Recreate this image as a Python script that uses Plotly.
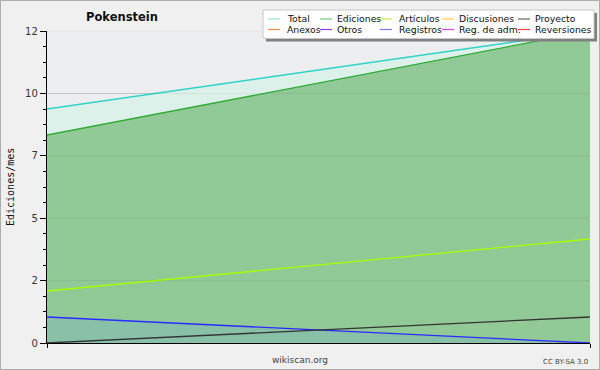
import plotly.graph_objects as go

# ---- data ----
months = [0, 1]
total = [9, 12]
ediciones = [8, 12]
articulos = [2, 4]
discusiones = [0, 0]
proyecto = [0, 1]
anexos = [0, 0]
otros = [0, 0]
registros = [1, 0]
reg_adm = [0, 0]
reversiones = [0, 0]

y_tickvals = [0, 2.4, 4.8, 7.2, 9.6, 12]
y_ticktext = ["0", "2", "5", "7", "10", "12"]

legend_names = ["Total", "Ediciones", "Artículos", "Discusiones", "Proyecto",
                "Anexos", "Otros", "Registros", "Reg. de adm.", "Reversiones"]
legend_colors = ["#95e3e3", "#79c879", "#c8f04a", "#ffcc40", "#666666",
                 "#ff8c40", "#8c40e0", "#7878ff", "#e040e0", "#ff4040"]

W, H = 600, 370
L, R, T, B = 47, 10, 31, 27
PW, PH = W - L - R, H - T - B


def px(x):
    return (x - L) / PW


def py(y):
    return (H - B - y) / PH


fig = go.Figure()

# zero-valued series first so the fills sit on top of them
for vals, col, nm in [(discusiones, "#ffcc40", "Discusiones"),
                      (anexos, "#ff8c40", "Anexos"),
                      (otros, "#8c40e0", "Otros"),
                      (reg_adm, "#e040e0", "Reg. de adm."),
                      (reversiones, "#ff4040", "Reversiones")]:
    fig.add_trace(go.Scatter(x=months, y=vals, mode="lines",
                             line=dict(color=col, width=1.2), name=nm))
fig.add_trace(go.Scatter(x=months, y=total, mode="lines", fill="tozeroy",
                         fillcolor="rgb(221,241,235)",
                         line=dict(color="#2ed3c8", width=1.3), name="Total"))
fig.add_trace(go.Scatter(x=months, y=ediciones, mode="lines", fill="tozeroy",
                         fillcolor="rgb(145,202,150)",
                         line=dict(color="#30ab36", width=1.3), name="Ediciones"))
fig.add_trace(go.Scatter(x=months, y=articulos, mode="lines",
                         line=dict(color="#a8ff00", width=1.3), name="Artículos"))
fig.add_trace(go.Scatter(x=months, y=registros, mode="lines", fill="tozeroy",
                         fillcolor="rgba(104,156,240,0.2)",
                         line=dict(color="#2a2aff", width=1.3), name="Registros"))
fig.add_trace(go.Scatter(x=months, y=proyecto, mode="lines",
                         line=dict(color="#333333", width=1.3), name="Proyecto"))

shapes = []
# faint grid over the fills
for v in y_tickvals[1:]:
    shapes.append(dict(type="line", xref="paper", yref="y", x0=0, x1=1, y0=v, y1=v,
                       line=dict(color="rgba(0,0,0,0.06)", width=1), layer="above"))

# outer border
shapes.append(dict(type="rect", xref="paper", yref="paper",
                   x0=px(0.5), x1=px(599.5), y0=py(369.5), y1=py(0.5),
                   line=dict(color="#adadad", width=1), layer="above"))

# legend shadow + box
shapes.append(dict(type="rect", xref="paper", yref="paper",
                   x0=px(266), x1=px(597), y0=py(41.5), y1=py(13),
                   line=dict(width=0), fillcolor="#808080", layer="above"))
shapes.append(dict(type="rect", xref="paper", yref="paper",
                   x0=px(263), x1=px(594), y0=py(38.5), y1=py(10),
                   line=dict(color="#c8c8c8", width=1), fillcolor="#ffffff", layer="above"))

annotations = []
line_x = [268, 320, 380, 442, 518]
text_x = [285, 335, 397, 457, 533]
row_y = [19, 29.5]
for i, (nm, col) in enumerate(zip(legend_names, legend_colors)):
    r, c = divmod(i, 5)
    yy = row_y[r]
    shapes.append(dict(type="line", xref="paper", yref="paper",
                       x0=px(line_x[c]), x1=px(line_x[c] + 12), y0=py(yy), y1=py(yy),
                       line=dict(color=col, width=1.2), layer="above"))
    annotations.append(dict(text=nm, xref="paper", yref="paper",
                            x=px(text_x[c]), y=py(yy), xanchor="left", yanchor="middle",
                            showarrow=False,
                            font=dict(family="DejaVu Sans", size=9.3, color="#111111")))

annotations.append(dict(text="<b>Pokenstein</b>", xref="paper", yref="paper",
                        x=px(122), y=py(17), xanchor="center", yanchor="middle",
                        showarrow=False,
                        font=dict(family="DejaVu Sans", size=11.5, color="#111111")))
annotations.append(dict(text="Ediciones/mes", xref="paper", yref="paper",
                        x=px(10), y=py(187), xanchor="center", yanchor="middle",
                        textangle=-90, showarrow=False,
                        font=dict(family="DejaVu Sans Mono", size=10, color="#111111")))
annotations.append(dict(text="wikiscan.org", xref="paper", yref="paper",
                        x=px(300), y=py(360), xanchor="center", yanchor="middle",
                        showarrow=False,
                        font=dict(family="DejaVu Sans", size=9, color="#444444")))
annotations.append(dict(text="CC BY-SA 3.0", xref="paper", yref="paper",
                        x=px(590), y=py(362), xanchor="right", yanchor="middle",
                        showarrow=False,
                        font=dict(family="DejaVu Sans", size=7, color="#444444")))

fig.update_layout(
    width=W, height=H,
    margin=dict(l=L, r=R, t=T, b=B),
    paper_bgcolor="#f0f0f0",
    plot_bgcolor="#eceef0",
    showlegend=False,
    shapes=shapes,
    annotations=annotations,
    xaxis=dict(range=[0, 1], tickvals=[0, 1], showticklabels=False,
               ticks="outside", ticklen=4, tickcolor="#000000",
               showline=True, linecolor="#000000", linewidth=1.3,
               showgrid=False, zeroline=False, fixedrange=True),
    yaxis=dict(range=[0, 12], tickvals=y_tickvals, ticktext=y_ticktext,
               ticks="outside", ticklen=6, tickcolor="#000000",
               showline=True, linecolor="#000000", linewidth=1.3,
               showgrid=True, gridcolor="#d0d0d0", zeroline=False,
               tickfont=dict(family="DejaVu Sans", size=10, color="#333333"),
               minor=dict(dtick=0.6, tick0=0, ticks="outside", ticklen=3,
                          tickcolor="#000000", showgrid=False),
               fixedrange=True),
)

fig.write_html("out.html", config={"displayModeBar": False},
               post_script="document.body.style.margin='0px';")
